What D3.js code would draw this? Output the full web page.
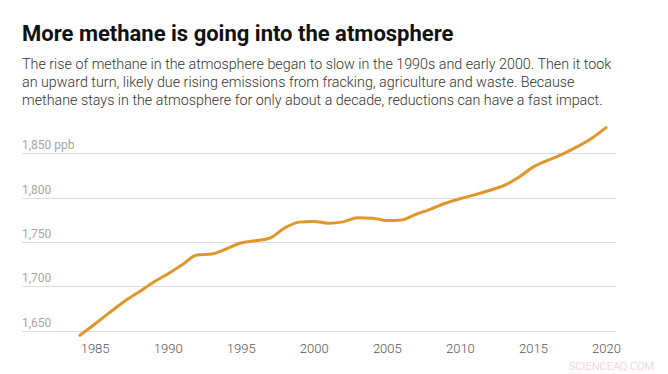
<!DOCTYPE html>
<html>
<head>
<meta charset="utf-8">
<script src="https://cdn.jsdelivr.net/npm/d3@7"></script>
<style>
  body { margin: 0; background: #fff; font-family: Roboto, "Noto Sans", sans-serif; }
</style>
</head>
<body>
<div id="chart"></div>
<script>
// Global methane, annual mean (ppb)
var years = [1984, 1985, 1986, 1987, 1988, 1989, 1990, 1991, 1992, 1993, 1994, 1995,
    1996, 1997, 1998, 1999, 2000, 2001, 2002, 2003, 2004, 2005, 2006, 2007, 2008,
    2009, 2010, 2011, 2012, 2013, 2014, 2015, 2016, 2017, 2018, 2019, 2020];
var methane = [1644.8, 1657.3, 1670.1, 1682.7, 1693.3, 1704.4, 1714.0, 1724.4, 1735.4, 1736.5,
    1742.1, 1748.9, 1751.4, 1754.5, 1765.8, 1772.4, 1773.2, 1771.2, 1772.7, 1777.4,
    1776.9, 1774.2, 1774.9, 1781.3, 1787.0, 1793.7, 1798.7, 1803.1, 1808.1, 1813.5,
    1822.6, 1834.4, 1841.9, 1848.8, 1857.2, 1866.7, 1879.0];
var yTicks = [1650, 1700, 1750, 1800, 1850];
var xTicks = [1985, 1990, 1995, 2000, 2005, 2010, 2015, 2020];

var title = "More methane is going into the atmosphere";
var subtitle = [
    "The rise of methane in the atmosphere began to slow in the 1990s and early 2000. Then it took",
    "an upward turn, likely due rising emissions from fracking, agriculture and waste. Because",
    "methane stays in the atmosphere for only about a decade, reductions can have a fast impact."
];

function init() {
    var W = 668, H = 374;
    var left = 22, right = 616;

    var svg = d3.select("#chart")
        .append("svg")
        .attr("width", W)
        .attr("height", H);

    // title + dek
    svg.append("text")
        .attr("x", left)
        .attr("y", 41)
        .attr("font-size", 22)
        .attr("font-weight", 700)
        .attr("fill", "#111")
        .text(title);

    svg.selectAll(".dek")
        .data(subtitle)
        .enter()
        .append("text")
        .attr("class", "dek")
        .attr("x", left)
        .attr("y", function(d, i) { return 69 + i * 18; })
        .attr("font-size", 14.3)
        .attr("font-weight", 300)
        .attr("fill", "#333")
        .text(function(d) { return d; });

    var data = years.map(function(y, i) { return { year: y, value: methane[i] }; });

    var xScale = d3.scaleLinear()
        .domain([1984, 2020])
        .range([80, 606]);

    var yScale = d3.scaleLinear()
        .domain([1650, 1850])
        .range([330.7, 153.3]);

    // gridlines
    svg.selectAll(".grid")
        .data(yTicks)
        .enter()
        .append("line")
        .attr("class", "grid")
        .attr("x1", left)
        .attr("x2", right)
        .attr("y1", function(d) { return Math.round(yScale(d)) + 0.5; })
        .attr("y2", function(d) { return Math.round(yScale(d)) + 0.5; })
        .attr("stroke", "#dedede")
        .attr("stroke-width", 1);

    var fmt = d3.format(",");
    svg.selectAll(".ylab")
        .data(yTicks)
        .enter()
        .append("text")
        .attr("class", "ylab")
        .attr("x", left)
        .attr("y", function(d) { return yScale(d) - 4; })
        .attr("font-size", 12)
        .attr("fill", "#a6a6a6")
        .text(function(d) { return fmt(d) + (d === 1850 ? " ppb" : ""); });

    // x axis labels
    var xAxis = d3.axisBottom(xScale)
        .tickValues(xTicks)
        .tickFormat(d3.format("d"))
        .tickSize(0)
        .tickPadding(0);
    var gx = svg.append("g")
        .attr("class", "x axis")
        .attr("transform", "translate(0, 344)")
        .call(xAxis);
    gx.select(".domain").remove();
    gx.selectAll("text")
        .attr("font-family", "Roboto, sans-serif")
        .attr("font-size", 13)
        .attr("font-weight", 300)
        .attr("fill", "#555");

    // the line
    var line = d3.line()
        .x(function(d) { return xScale(d.year); })
        .y(function(d) { return yScale(d.value); })
        .curve(d3.curveMonotoneX);

    svg.append("path")
        .datum(data)
        .attr("d", line)
        .attr("fill", "none")
        .attr("stroke", "#df962a")
        .attr("stroke-width", 3)
        .attr("stroke-linejoin", "round")
        .attr("stroke-linecap", "round");

    // watermark
    svg.append("text")
        .attr("x", 654)
        .attr("y", 370)
        .attr("text-anchor", "end")
        .attr("font-size", 11)
        .attr("font-weight", 300)
        .attr("fill", "#f2c7cd")
        .text("SCIENCEAQ.COM");
}

window.onload = init;
</script>
</body>
</html>
